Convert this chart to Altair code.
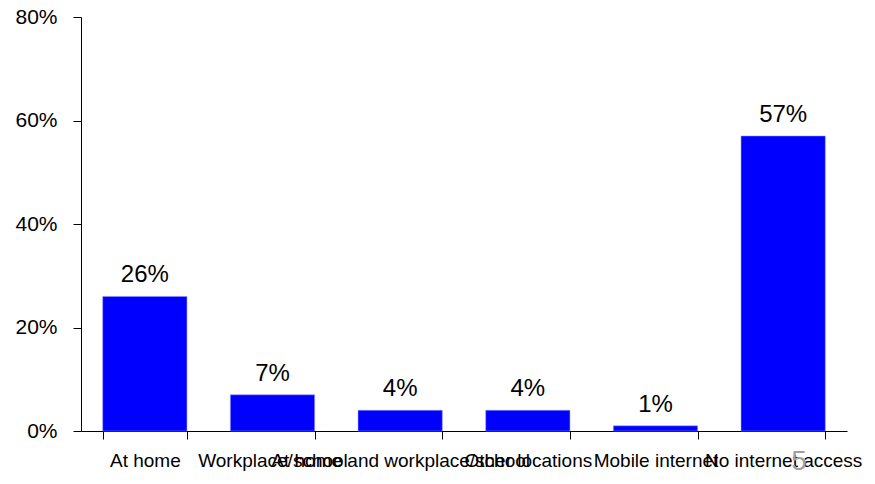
import altair as alt
import pandas as pd

categories = ["At home", "Workplace/school", "At home and workplace/school",
              "Other locations", "Mobile internet", "No internet access"]
values = [0.26, 0.07, 0.04, 0.04, 0.01, 0.57]
y_ticks = [0, 0.2, 0.4, 0.6, 0.8]
page_number = "5"

df = pd.DataFrame({"category": categories, "value": values})

FONT = "Liberation Sans"

x_enc = alt.X(
    "category:N", sort=categories, title=None,
    scale=alt.Scale(paddingInner=0.34, paddingOuter=0.17),
    axis=alt.Axis(labelAngle=0, labelFontSize=19, labelFont=FONT, labelColor="black",
                  labelPadding=12, tickBand="extent", tickSize=8, tickColor="black",
                  domainColor="black", labelOverlap=False, labelLimit=0, labelBound=False),
)
y_enc = alt.Y(
    "value:Q", title=None,
    scale=alt.Scale(domain=[0, 0.8], nice=False),
    axis=alt.Axis(values=y_ticks, format=".0%", labelFontSize=21, labelFont=FONT,
                  labelColor="black", grid=False, tickSize=8, tickColor="black",
                  domainColor="black", labelPadding=16),
)

bars = alt.Chart(df).mark_bar(color="#0000FF", stroke="#9999ff", strokeWidth=0.5).encode(x=x_enc, y=y_enc)

labels = alt.Chart(df).mark_text(baseline="bottom", dy=-9, fontSize=24, font=FONT, color="black").encode(
    x=alt.X("category:N", sort=categories),
    y=alt.Y("value:Q"),
    text=alt.Text("value:Q", format=".0%"),
)

pnum = alt.Chart(pd.DataFrame({"t": [page_number]})).mark_text(
    fontSize=28, font=FONT, color="#a0a0a0", baseline="middle", align="center"
).encode(x=alt.value(718), y=alt.value(445), text="t:N")

chart = alt.layer(bars, labels, pnum).properties(
    width=766, height=414,
    autosize=alt.AutoSizeParams(type="none"),
    padding={"left": 73, "top": 9, "right": 20, "bottom": 43},
).configure_view(stroke=None)

chart.save("out.html", embed_options={"renderer": "svg", "actions": False})
